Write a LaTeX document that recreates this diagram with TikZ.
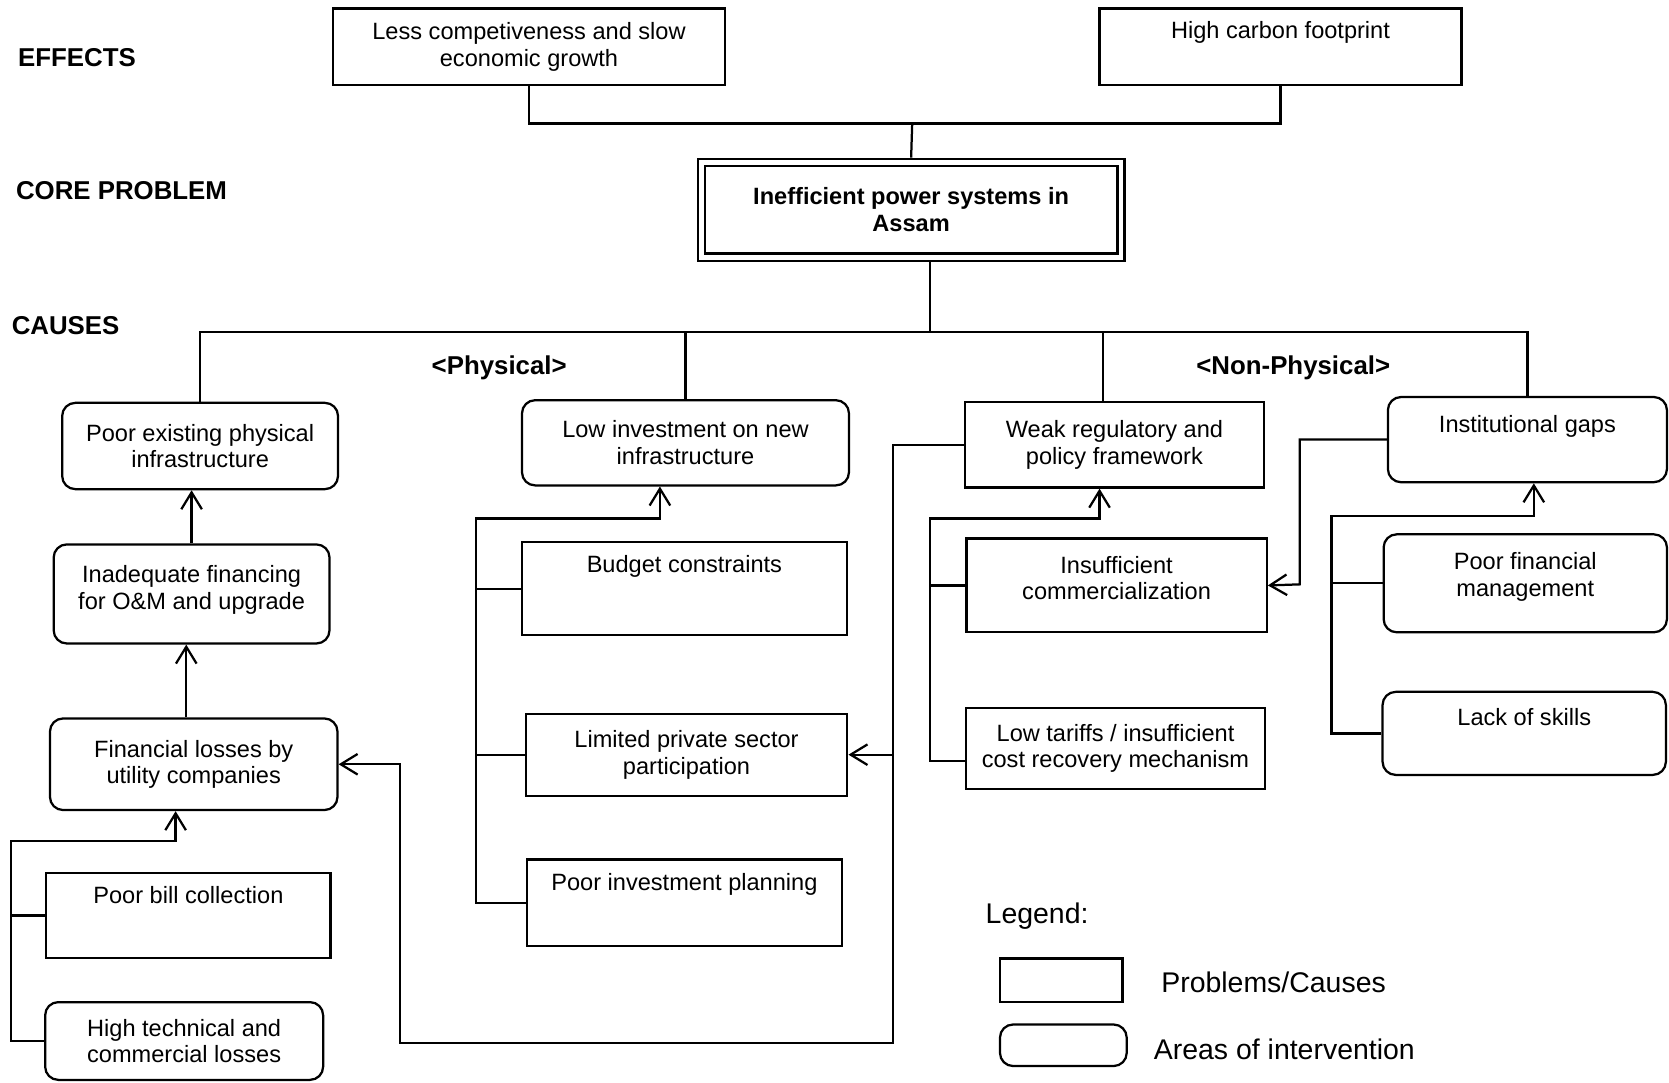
\documentclass[tikz,border=0pt]{standalone}
\usepackage{fontspec}
\setmainfont{Liberation Sans}
\usetikzlibrary{arrows.meta}

\begin{document}
\begin{tikzpicture}[x=0.01cm, y=-0.01cm, line width=0.6pt,
    >={Straight Barb[length=4.5pt,width=5.5pt]},
    box/.style={draw, inner sep=1pt, align=center, font=\fontsize{6.3}{7.1}\selectfont},
    roundbox/.style={box, rounded corners=3.5pt},
    toptext/.style={text height=4.6pt, text depth=#1},
    lifttext/.style={text height=11.7pt, text depth=#1},
    heading/.style={inner sep=0pt, font=\bfseries\fontsize{6.9}{8}\selectfont},
    legendtext/.style={anchor=west, inner sep=0pt, font=\fontsize{7.6}{9}\selectfont}]
\useasboundingbox (0,0) rectangle (1568,1017);

% level labels
\node[heading, anchor=west] (effects) at (16,54) {EFFECTS};
\node[heading, anchor=west] (coreprob) at (14,179) {CORE PROBLEM};
\node[heading, anchor=west] (causes) at (10,306) {CAUSES};
\node[heading] (physical) at (469,346) {<Physical>};
\node[heading] (nonphysical) at (1215,346) {<Non-Physical>};

\begin{scope}[every node/.style={box}]
    % effects and core problem
    \node[minimum width=3.68cm, minimum height=0.72cm] (slowgrowth) at (497,44) {Less competiveness and slow\\economic growth};
    \node[toptext=9.1pt, minimum width=3.40cm, minimum height=0.72cm] (carbon) at (1203,44) {High carbon footprint};
    \node[double, double distance=1.3pt, outer sep=1.25pt, minimum width=3.94cm, minimum height=0.89cm,
          font=\bfseries\fontsize{6.3}{7.4}\selectfont] (core) at (856,197) {Inefficient power systems in\\Assam};

    % causes, first row
    \node[roundbox, minimum width=2.59cm, minimum height=0.81cm] (oldinfra) at (188,419) {Poor existing physical\\infrastructure};
    \node[roundbox, minimum width=3.07cm, minimum height=0.80cm] (newinvest) at (644,416) {Low investment on new\\infrastructure};
    \node[minimum width=2.81cm, minimum height=0.80cm] (regulation) at (1047,418) {Weak regulatory and\\policy framework};
    \node[roundbox, toptext=8.6pt, minimum width=2.62cm, minimum height=0.80cm] (instgaps) at (1435,413) {Institutional gaps};

    % physical
    \node[roundbox, lifttext=3.5pt, minimum width=2.59cm, minimum height=0.93cm] (omfinance) at (180,558) {Inadequate financing\\for O\&M and upgrade};
    \node[roundbox, minimum width=2.70cm, minimum height=0.86cm] (finlosses) at (182,718) {Financial losses by\\utility companies};
    \node[toptext=10.8pt, minimum width=2.67cm, minimum height=0.80cm] (billing) at (177,860) {Poor bill collection};
    \node[roundbox, minimum width=2.61cm, minimum height=0.73cm] (atcloss) at (173,978) {High technical and\\commercial losses};
    \node[toptext=13.4pt, minimum width=3.05cm, minimum height=0.87cm] (budget) at (643,553) {Budget constraints};
    \node[minimum width=3.02cm, minimum height=0.77cm] (private) at (645,709) {Limited private sector\\participation};
    \node[toptext=11.2pt, minimum width=2.96cm, minimum height=0.81cm] (planning) at (643,848) {Poor investment planning};

    % non-physical
    \node[lifttext=4pt, minimum width=2.82cm, minimum height=0.88cm] (commercial) at (1049,550) {Insufficient\\commercialization};
    \node[minimum width=2.81cm, minimum height=0.76cm] (tariffs) at (1048,703) {Low tariffs / insufficient\\cost recovery mechanism};
    \node[roundbox, lifttext=4.7pt, minimum width=2.66cm, minimum height=0.92cm] (finmgmt) at (1433,548) {Poor financial\\management};
    \node[roundbox, toptext=8.6pt, minimum width=2.66cm, minimum height=0.78cm] (skills) at (1432,689) {Lack of skills};

    % legend
    \node[minimum width=1.15cm, minimum height=0.41cm] (legbox) at (997,921) {};
    \node[roundbox, minimum width=1.19cm, minimum height=0.39cm] (leground) at (999,982) {};
\end{scope}

\node[legendtext] (legend) at (925,861) {Legend:};
\node[legendtext] (legboxtext) at (1090,923) {Problems/Causes};
\node[legendtext] (legroundtext) at (1083,986) {Areas of intervention};

% tree lines
\coordinate (effbus) at (857,116);
\coordinate (causebus) at (874,312);
\draw (slowgrowth.south) |- (effbus) -| (carbon.south);
\draw (effbus) -- (core.north);
\draw (core.south -| causebus) -- (causebus);
\draw (oldinfra.north) |- (causebus) -| (instgaps.north);
\draw (newinvest.north) -- (newinvest.north |- causebus);
\draw ([xshift=-0.11cm]regulation.north) -- ([xshift=-0.11cm]regulation.north |- causebus);

% cause chains
\draw[->] (omfinance.north) -- (omfinance.north |- oldinfra.south);
\draw[->] ([xshift=-0.07cm]finlosses.north) -- ([xshift=-0.07cm]finlosses.north |- omfinance.south);

\coordinate (lossbus) at (10,790);
\draw[->] (atcloss.west) -| (lossbus) -| ([xshift=-0.17cm]finlosses.south);
\draw (billing.west) -- (billing.west -| lossbus);

\coordinate (physbus) at (447,487);
\draw[->] (planning.west) -| (physbus) -| ([xshift=-0.24cm]newinvest.south);
\draw (budget.west) -- (budget.west -| physbus);
\draw (private.west) -- (private.west -| physbus);

\coordinate (regdown) at (839,980);
\coordinate (regleft) at (376,980);
\draw[->] (regulation.west) -| (regdown) -- (regleft) |- (finlosses.east);
\draw[->] (regdown |- private.east) -- (private.east);

\coordinate (regbus) at (874,487);
\draw[->] ([yshift=-0.12cm]tariffs.west) -| (regbus) -| ([xshift=-0.14cm]regulation.south);
\draw (commercial.west) -- (commercial.west -| regbus);

\coordinate (instdown) at (1221,549);
\draw[->] (instgaps.west) -| (instdown) -- (commercial.east);

\coordinate (instbus) at (1251,485);
\draw[->] (skills.west) -| (instbus) -| ([xshift=0.06cm]instgaps.south);
\draw (finmgmt.west) -- (finmgmt.west -| instbus);
\end{tikzpicture}
\end{document}
